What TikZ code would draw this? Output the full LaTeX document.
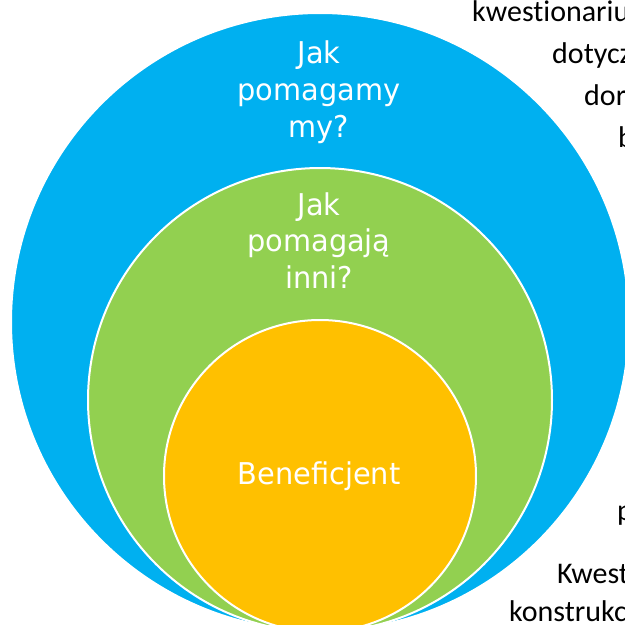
\documentclass[tikz,border=0pt]{standalone}
\usepackage{fontspec}
\newfontfamily\labfont[FakeStretch=0.96]{DejaVu Sans}
\newfontfamily\sidefont[RawFeature={-liga;-clig;-dlig}]{Carlito}
\definecolor{cblue}{HTML}{00B0F0}
\definecolor{cgreen}{HTML}{92D050}
\definecolor{corange}{HTML}{FFC000}
\begin{document}
\begin{tikzpicture}[x=1pt,y=-1pt,
  ring/.style={circle, draw=white, line width=2pt, inner sep=0pt},
  lab/.style={text=white, font=\labfont\fontsize{30}{36}\selectfont, anchor=base, inner sep=0pt},
  side/.style={text=black, font=\sidefont\fontsize{30}{36}\selectfont, anchor=base west, inner sep=0pt}]
\useasboundingbox (0,0) rectangle (625,625);
\clip (0,0) rectangle (625,625);
\node[ring, fill=cblue, minimum size=618pt] (outer) at (320,322) {};
\node[ring, fill=cgreen, minimum size=464pt] (middle) at (320,400) {};
\node[ring, fill=corange, minimum size=312pt] (inner) at (320,476) {};
% labels in circles
\node[lab] (o1) at (319,63) {Jak};
\node[lab] (o2) at (319,100) {pomagamy};
\node[lab] (o3) at (319,137) {my?};
\node[lab] (m1) at (319,215) {Jak};
\node[lab] (m2) at (319,251.5) {pomagają};
\node[lab] (m3) at (319,288) {inni?};
\node[lab] (i1) at (319,484) {Beneficjent};
% side text (cut off at the right edge)
\node[side] (s1) at (472,21) {kwestionariu};
\node[side] (s2) at (552,63) {dotycz};
\node[side] (s3) at (584,105) {dor};
\node[side] (s4) at (618,147) {b};
\node[side] (s5) at (617,520) {p};
\node[side] (s6) at (557,583) {Kwest};
\node[side] (s7) at (509,621) {konstrukc};
\end{tikzpicture}
\end{document}
